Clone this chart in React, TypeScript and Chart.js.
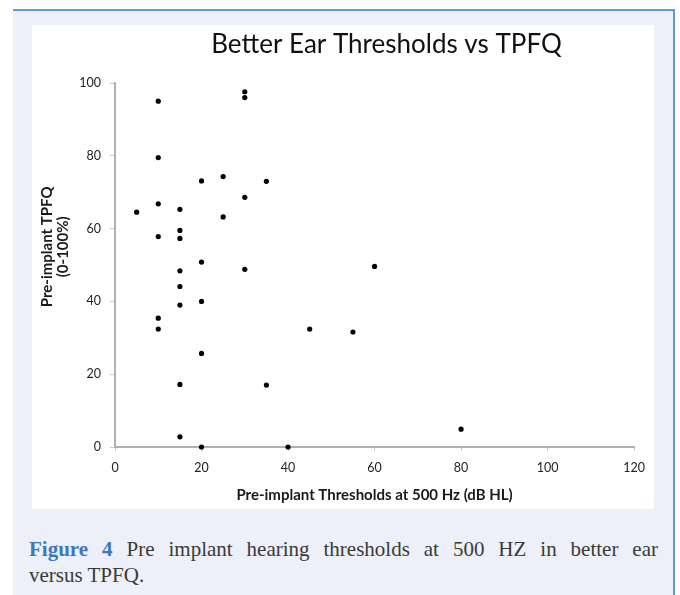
import React, { useEffect, useRef } from "react";
import { Chart, registerables } from "chart.js";

Chart.register(...registerables);

const chartTitle = "Better Ear Thresholds vs TPFQ";
const xAxisTitle = "Pre-implant Thresholds at 500 Hz (dB HL)";
const yAxisTitleLines = ["Pre-implant TPFQ", "(0-100%)"];
const captionLabel = "Figure 4";
const captionLine1 = "Pre implant hearing thresholds at 500 HZ in better ear";
const captionLine2 = "versus TPFQ.";

// Pre-implant thresholds at 500 Hz (dB HL)
const thresholds = [
  5,
  10, 10, 10, 10, 10, 10,
  15, 15, 15, 15, 15, 15, 15, 15,
  20, 20, 20, 20, 20,
  25, 25,
  30, 30, 30, 30,
  35, 35,
  40,
  45,
  55,
  60,
  80,
];
// Pre-implant TPFQ (0-100%)
const tpfq = [
  64.5,
  95, 79.5, 66.8, 57.8, 35.4, 32.4,
  65.3, 59.5, 57.3, 48.4, 44.1, 39, 17.2, 2.8,
  73.1, 50.8, 40, 25.7, 0,
  74.3, 63.2,
  97.6, 96, 68.6, 48.8,
  73, 17,
  0,
  32.4,
  31.6,
  49.6,
  4.9,
];

const xTicks = { min: 0, max: 120, step: 20 };
const yTicks = { min: 0, max: 100, step: 20 };

const customText = {
  id: "customText",
  afterDraw(chart: any) {
    const { ctx, chartArea } = chart;
    ctx.save();
    // chart title
    ctx.fillStyle = "#111111";
    ctx.font = "26px Lato, 'Open Sans', sans-serif";
    ctx.textAlign = "center";
    ctx.textBaseline = "middle";
    ctx.fillText(chartTitle, chartArea.left + (chartArea.right - chartArea.left) * 0.523, 20);
    // y axis title (two lines, rotated)
    const cy = chartArea.top + (chartArea.bottom - chartArea.top) * 0.45;
    ctx.font = "bold 15px Lato, 'Open Sans', sans-serif";
    ctx.fillStyle = "#1a1a1a";
    const xs = [chartArea.left - 68, chartArea.left - 52];
    yAxisTitleLines.forEach((line, i) => {
      ctx.save();
      ctx.translate(xs[i], cy);
      ctx.rotate(-Math.PI / 2);
      ctx.fillText(line, 0, 0);
      ctx.restore();
    });
    ctx.restore();
  },
};

function ScatterChart() {
  const ref = useRef<HTMLCanvasElement | null>(null);
  useEffect(() => {
    if (!ref.current) return;
    const points = thresholds.map((x, i) => ({ x, y: tpfq[i] }));
    const tickFont = { family: "Lato, 'Open Sans', sans-serif", size: 12.5 };
    const chart = new Chart(ref.current, {
      type: "scatter",
      data: {
        datasets: [
          {
            data: points,
            backgroundColor: "#000000",
            borderColor: "#000000",
            pointRadius: 2.6,
            pointHoverRadius: 2.6,
            borderWidth: 0,
            clip: false as any,
          },
        ],
      },
      plugins: [customText],
      options: {
        animation: false,
        responsive: false,
        maintainAspectRatio: false,
        layout: { padding: { top: 58, right: 17, left: 0, bottom: 0 } },
        plugins: {
          legend: { display: false },
          title: { display: false },
          tooltip: { enabled: false },
        },
        scales: {
          x: {
            type: "linear",
            min: xTicks.min,
            max: xTicks.max,
            afterFit: (scale: any) => {
              scale.height = 62;
            },
            ticks: {
              stepSize: xTicks.step,
              color: "#222222",
              font: tickFont,
              padding: 9,
              maxRotation: 0,
            },
            grid: {
              display: true,
              drawOnChartArea: false,
              drawTicks: true,
              tickLength: 4,
              color: "#c8c8c8",
            },
            border: { display: true, color: "#b0b0b0", width: 2 },
            title: {
              display: true,
              text: xAxisTitle,
              color: "#1a1a1a",
              font: { family: "Lato, 'Open Sans', sans-serif", size: 15, weight: "bold" },
              padding: { top: 0, bottom: 5 },
            },
          },
          y: {
            type: "linear",
            min: yTicks.min,
            max: yTicks.max,
            afterFit: (scale: any) => {
              scale.width = 83;
            },
            ticks: {
              stepSize: yTicks.step,
              color: "#222222",
              font: tickFont,
              padding: 9,
            },
            grid: {
              display: true,
              drawOnChartArea: false,
              drawTicks: true,
              tickLength: 5,
              color: "#c8c8c8",
            },
            border: { display: true, color: "#b0b0b0", width: 2 },
            title: { display: false },
          },
        },
      } as any,
    });
    return () => chart.destroy();
  }, []);
  return <canvas ref={ref} width={622} height={484} style={{ display: "block" }} />;
}

export default function App() {
  return (
    <div
      style={{
        position: "absolute",
        left: 0,
        top: 0,
        width: 680,
        height: 595,
        background: "#ffffff",
        overflow: "hidden",
      }}
    >
      <div
        style={{
          position: "absolute",
          left: 13,
          top: 9,
          width: 660,
          height: 600,
          background: "#edf0f8",
          borderTop: "2px solid #5b9bd5",
          borderRight: "2px solid #5b9bd5",
        }}
      />
      <div style={{ position: "absolute", left: 32, top: 25, width: 622, height: 484, background: "#ffffff" }}>
        <ScatterChart />
      </div>
      <div
        style={{
          position: "absolute",
          left: 29,
          top: 536,
          width: 629,
          fontFamily: "'Liberation Serif', 'Times New Roman', serif",
          fontSize: 21,
          lineHeight: "26px",
          color: "#3a3a3a",
        }}
      >
        <div style={{ textAlign: "justify", textAlignLast: "justify" as any, whiteSpace: "nowrap" as any }}>
          <span style={{ color: "#3a78c2", fontWeight: "bold" }}>{captionLabel}</span> {captionLine1}
        </div>
        <div>{captionLine2}</div>
      </div>
    </div>
  );
}
